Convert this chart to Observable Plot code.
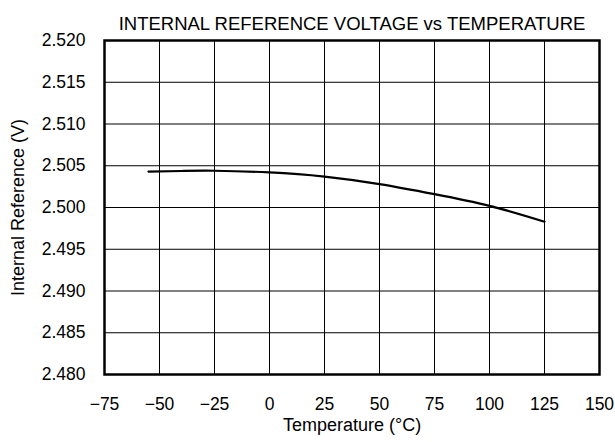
<!DOCTYPE html>
<html>
<head>
<meta charset="utf-8">
<script src="https://cdn.jsdelivr.net/npm/d3@7"></script>
<script src="https://cdn.jsdelivr.net/npm/@observablehq/plot@0.6"></script>
<style>
  html, body { margin: 0; padding: 0; background: #fff; }
</style>
</head>
<body>
<div id="chart"></div>
<script>
const title = "INTERNAL REFERENCE VOLTAGE vs TEMPERATURE";
const xLabel = "Temperature (°C)";
const yLabel = "Internal Reference (V)";
const xTicks = [-75, -50, -25, 0, 25, 50, 75, 100, 125, 150];
const yTicks = [2.480, 2.485, 2.490, 2.495, 2.500, 2.505, 2.510, 2.515, 2.520];
const temps = [-55, -40, -25, 0, 25, 50, 75, 100, 125];
const volts = [2.5043, 2.50437, 2.5044, 2.5042, 2.5037, 2.5028, 2.5016, 2.5002, 2.4983];

const data = temps.map((t, i) => ({t, v: volts[i]}));

const chart = Plot.plot({
  width: 615,
  height: 442,
  marginTop: 40,
  marginLeft: 104,
  marginRight: 16,
  marginBottom: 68,
  style: {fontFamily: "'Liberation Sans', Arial, sans-serif", fontSize: "17.5px", color: "#000", background: "#fff"},
  x: {domain: [-75, 150], ticks: xTicks},
  y: {domain: [2.480, 2.520], ticks: yTicks},
  marks: [
    Plot.gridX(xTicks, {stroke: "#000", strokeOpacity: 1, strokeWidth: 1}),
    Plot.gridY(yTicks, {stroke: "#000", strokeOpacity: 1, strokeWidth: 1}),
    Plot.frame({stroke: "#000", strokeWidth: 2.5}),
    Plot.axisX(xTicks, {tickSize: 0, tickPadding: 23, tickFormat: d3.format("d"), label: null, fontSize: 17.5}),
    Plot.axisY(yTicks, {tickSize: 0, tickPadding: 19, tickFormat: d3.format(".3f"), label: null, fontSize: 17.5}),
    Plot.line(data, {x: "t", y: "v", curve: "natural", stroke: "#000", strokeWidth: 2.2}),
    Plot.text([title], {frameAnchor: "top", dy: -24, fontSize: 18.5, fill: "#000"}),
    Plot.text([xLabel], {frameAnchor: "bottom", dy: 56, fontSize: 18, fill: "#000"}),
    Plot.text([yLabel], {frameAnchor: "left", textAnchor: "middle", dx: -86, rotate: -90, fontSize: 18, fill: "#000"})
  ]
});
document.getElementById("chart").appendChild(chart);
</script>
</body>
</html>
